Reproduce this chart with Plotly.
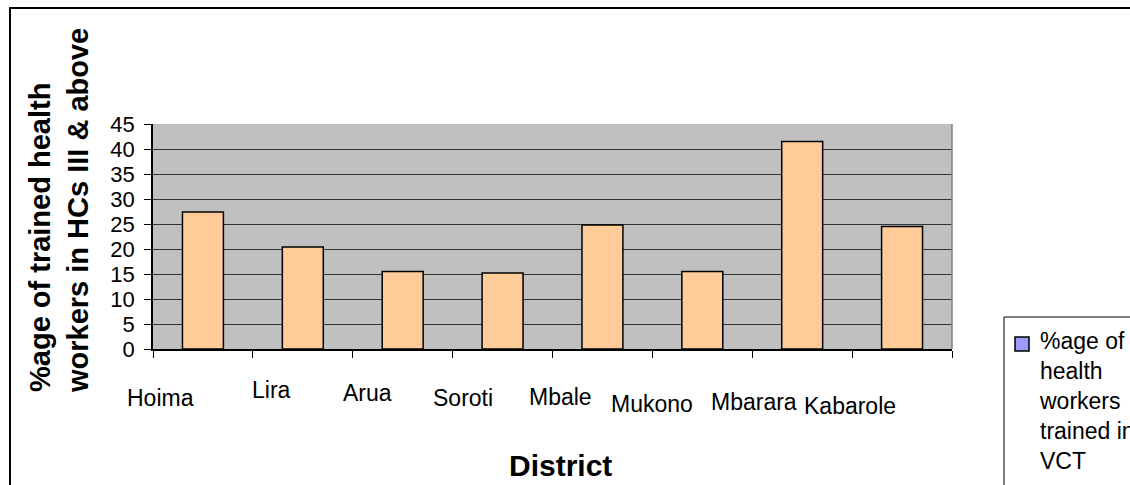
import plotly.graph_objects as go

districts = ["Hoima", "Lira", "Arua", "Soroti", "Mbale", "Mukono", "Mbarara", "Kabarole"]
pct_trained = [27.4, 20.4, 15.5, 15.2, 24.8, 15.5, 41.5, 24.5]
series_name = "%age of health workers trained in VCT"
y_title = "%age of trained health<br>workers in HCs III & above"
x_title = "District"

# label placement (styling): horizontal shift from bar centre, drop below axis (px)
label_dx = [-42, -31, -35, -40, -42, -50, -48, -52]
label_dy = [49, 41, 44, 49, 48, 55, 53, 57]

W, H = 1130, 485
L, R, T, B = 153, 952, 124, 349
FONT = "Liberation Sans, Arial, sans-serif"


def px(x):
    return (x - L) / (R - L)


def py(y):
    return (B - y) / (B - T)


fig = go.Figure()
fig.add_trace(go.Bar(
    x=districts, y=pct_trained, name=series_name,
    marker=dict(color="#FFCC99", line=dict(color="#000000", width=1.5)),
    showlegend=False,
))

annotations = []
for name, dx, dy in zip(districts, label_dx, label_dy):
    annotations.append(dict(
        x=name, y=0, xref="x", yref="y", text=name, showarrow=False,
        xanchor="center", yanchor="middle", xshift=dx, yshift=-dy,
        font=dict(family=FONT, size=23, color="#000"),
    ))

annotations.append(dict(
    x=px(59), y=py(211), xref="paper", yref="paper", text="<b>" + y_title + "</b>",
    textangle=-90, align="left", showarrow=False, xanchor="center", yanchor="middle",
    font=dict(family=FONT, size=29, color="#000"),
))
annotations.append(dict(
    x=px(560), y=py(465), xref="paper", yref="paper", text="<b>" + x_title + "</b>",
    showarrow=False, xanchor="center", yanchor="middle",
    font=dict(family=FONT, size=30, color="#000"),
))
legend_text = "%age of<br>health<br>workers<br>trained in<br>VCT"
annotations.append(dict(
    x=px(1037), y=py(401), xref="paper", yref="paper", text=legend_text,
    showarrow=False, xanchor="left", yanchor="middle", align="left",
    font=dict(family=FONT, size=23, color="#000"),
))

shapes = [
    # outer chart frame
    dict(type="rect", xref="paper", yref="paper", x0=px(10), x1=px(1200), y0=py(600), y1=py(8),
         line=dict(color="#000", width=2), fillcolor="rgba(0,0,0,0)", layer="above"),
    # legend box
    dict(type="rect", xref="paper", yref="paper", x0=px(1004), x1=px(1200), y0=py(600), y1=py(317),
         line=dict(color="#000", width=1), fillcolor="rgba(0,0,0,0)"),
    # legend key
    dict(type="rect", xref="paper", yref="paper", x0=px(1015), x1=px(1029), y0=py(351), y1=py(337),
         line=dict(color="#000", width=1.5), fillcolor="#9999FF"),
    # plot-area right border
    dict(type="line", xref="paper", yref="paper", x0=1, x1=1, y0=0, y1=1,
         line=dict(color="#808080", width=1.5)),
]

fig.update_layout(
    width=W, height=H,
    margin=dict(l=L, r=W - R, t=T, b=H - B, pad=0),
    paper_bgcolor="#FFFFFF", plot_bgcolor="#C0C0C0",
    bargap=0.59,
    font=dict(family=FONT, size=22, color="#000"),
    annotations=annotations, shapes=shapes,
    showlegend=False,
)
fig.update_xaxes(
    type="category", range=[-0.5, 7.5], showticklabels=False,
    ticks="outside", tickson="boundaries", ticklen=7, tickcolor="#000",
    showline=True, linecolor="#000", linewidth=1.5, showgrid=False, zeroline=False,
)
fig.update_yaxes(
    range=[0, 45], dtick=5, tick0=0, ticks="outside", ticklen=7, tickcolor="#000",
    showline=True, linecolor="#000", linewidth=1.5,
    showgrid=True, gridcolor="#333333", gridwidth=1.2, zeroline=False,
    tickfont=dict(family=FONT, size=22, color="#000"), ticklabelstandoff=5,
    mirror=False,
)

fig.write_html("out.html")
